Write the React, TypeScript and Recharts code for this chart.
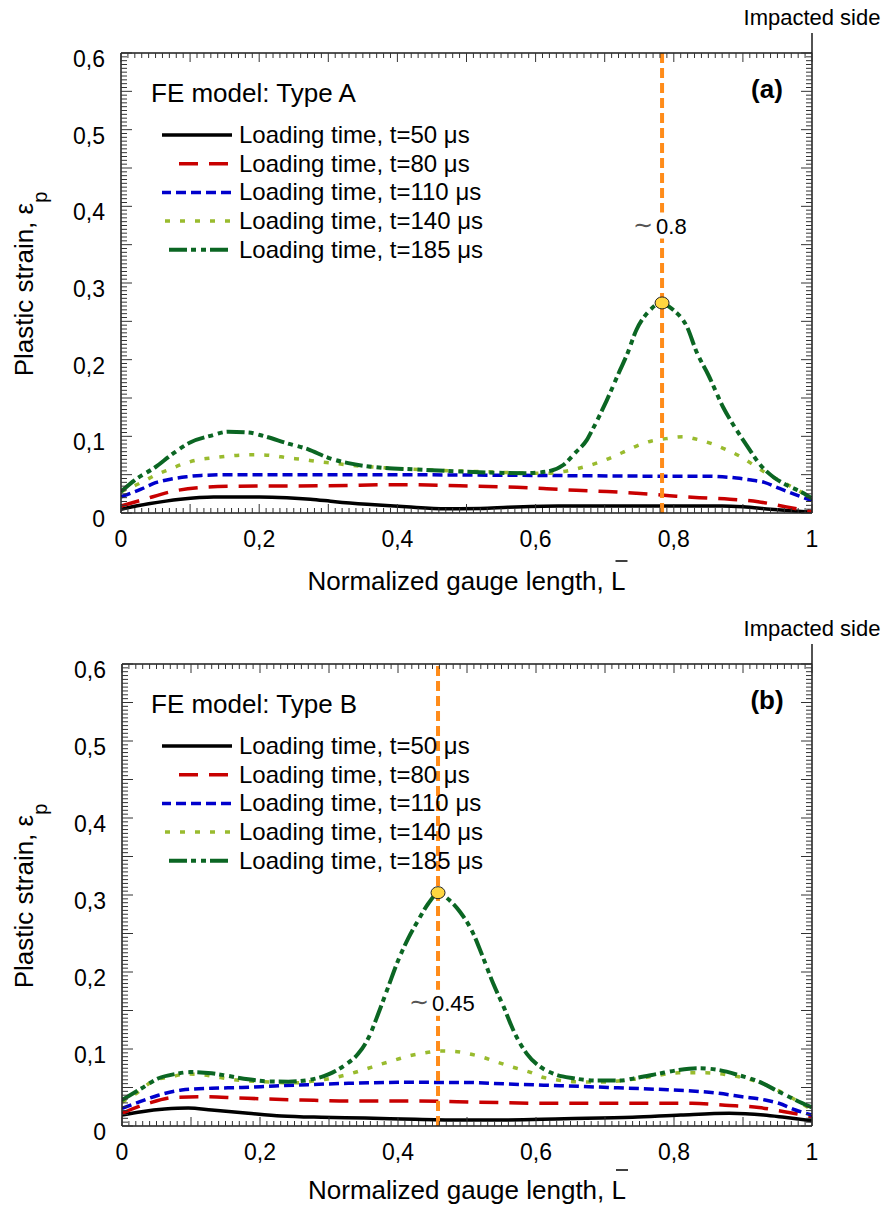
import React from 'react';
import { LineChart, Line, XAxis, YAxis, ReferenceLine, ReferenceDot } from 'recharts';

type Pt = [number, number];

// legend text, tick labels
const SERIES_NAMES = [
  'Loading time, t=50 μs',
  'Loading time, t=80 μs',
  'Loading time, t=110 μs',
  'Loading time, t=140 μs',
  'Loading time, t=185 μs',
];
const X_LABEL_TICKS = [0, 0.2, 0.4, 0.6, 0.8, 1];
const Y_LABEL_TICKS = [0, 0.1, 0.2, 0.3, 0.4, 0.5, 0.6];

// ---- FE model: Type A ----
const A_T50: Pt[] = [
  [0, 0.005], [0.04, 0.012], [0.086, 0.018], [0.134, 0.021], [0.2, 0.021], [0.24, 0.02],
  [0.274, 0.018], [0.31, 0.0147], [0.356, 0.0113], [0.413, 0.008], [0.47, 0.0056], [0.52, 0.0058],
  [0.56, 0.0074], [0.633, 0.009], [0.75, 0.009], [0.87, 0.009], [0.9, 0.008], [0.94, 0.005],
  [0.97, 0.003], [1, 0.001],
];
const A_T80: Pt[] = [
  [0, 0.009], [0.034, 0.018], [0.077, 0.0287], [0.12, 0.0335], [0.168, 0.035], [0.3, 0.0355],
  [0.4, 0.037], [0.49, 0.0355], [0.573, 0.0335], [0.616, 0.0317], [0.659, 0.0296], [0.703, 0.028],
  [0.746, 0.0257], [0.794, 0.0226], [0.837, 0.02], [0.881, 0.018], [0.922, 0.0147], [0.963, 0.008],
  [1, 0.002],
];
const A_T110: Pt[] = [
  [0, 0.021], [0.029, 0.031], [0.05, 0.0395], [0.073, 0.0443], [0.095, 0.0473], [0.116, 0.049],
  [0.16, 0.05], [0.35, 0.05], [0.6, 0.049], [0.8, 0.048], [0.847, 0.048], [0.891, 0.0456],
  [0.912, 0.043], [0.931, 0.04], [0.953, 0.032], [0.975, 0.0244], [1, 0.016],
];
const A_T140: Pt[] = [
  [0, 0.028], [0.03, 0.04], [0.05, 0.0495], [0.07, 0.057], [0.09, 0.064], [0.108, 0.0687],
  [0.134, 0.072], [0.175, 0.0756], [0.197, 0.076], [0.22, 0.075], [0.24, 0.072], [0.262, 0.07],
  [0.285, 0.067], [0.307, 0.065], [0.33, 0.0625], [0.38, 0.059], [0.45, 0.056], [0.52, 0.054],
  [0.6, 0.052], [0.618, 0.052], [0.64, 0.054], [0.661, 0.058], [0.683, 0.0635], [0.703, 0.07],
  [0.725, 0.0786], [0.746, 0.0873], [0.768, 0.094], [0.789, 0.097], [0.813, 0.0995], [0.834, 0.096],
  [0.856, 0.09], [0.875, 0.083], [0.897, 0.0734], [0.918, 0.061], [0.938, 0.0495], [0.956, 0.041],
  [0.979, 0.03], [1, 0.019],
];
const A_T185: Pt[] = [
  [0, 0.028], [0.02, 0.043], [0.05, 0.06], [0.073, 0.076], [0.1, 0.092], [0.131, 0.101],
  [0.155, 0.106], [0.184, 0.105], [0.208, 0.1], [0.24, 0.091], [0.271, 0.083], [0.3, 0.072],
  [0.329, 0.065], [0.377, 0.059], [0.425, 0.057], [0.493, 0.054], [0.587, 0.052], [0.616, 0.054],
  [0.64, 0.0626], [0.659, 0.08], [0.674, 0.095], [0.683, 0.11], [0.703, 0.147], [0.722, 0.186],
  [0.732, 0.206], [0.746, 0.239], [0.766, 0.265], [0.781, 0.274], [0.799, 0.265], [0.819, 0.243],
  [0.833, 0.21], [0.85, 0.18], [0.872, 0.137], [0.891, 0.108], [0.905, 0.089], [0.925, 0.063],
  [0.944, 0.047], [0.963, 0.0365], [0.983, 0.028], [1, 0.019],
];
const A_PEAK: Pt = [0.783, 0.274];
const A_MARK_Y = 0.375;
const A_MARK_TEXT = '0.8';

// ---- FE model: Type B ----
const B_T50: Pt[] = [
  [0, 0.0143], [0.0285, 0.0186], [0.062, 0.022], [0.096, 0.0234], [0.13, 0.0208], [0.183, 0.0165],
  [0.231, 0.013], [0.289, 0.0113], [0.352, 0.0104], [0.425, 0.0087], [0.492, 0.0078], [0.545, 0.0078],
  [0.641, 0.0095], [0.74, 0.0113], [0.81, 0.0143], [0.88, 0.0165], [0.93, 0.0143], [0.96, 0.0113],
  [1, 0.0069],
];
const B_T80: Pt[] = [
  [0, 0.0165], [0.038, 0.0295], [0.0768, 0.0373], [0.12, 0.038], [0.1686, 0.0364], [0.212, 0.035],
  [0.2604, 0.0338], [0.328, 0.0325], [0.425, 0.0325], [0.516, 0.031], [0.609, 0.0295], [0.826, 0.0295],
  [0.874, 0.027], [0.923, 0.024], [0.96, 0.0186], [1, 0.012],
];
const B_T110: Pt[] = [
  [0, 0.023], [0.026, 0.0316], [0.0527, 0.04], [0.0865, 0.0467], [0.13, 0.049], [0.1734, 0.05],
  [0.2217, 0.052], [0.27, 0.0537], [0.328, 0.0554], [0.4, 0.0567], [0.5, 0.0565], [0.56, 0.0545],
  [0.635, 0.0524], [0.707, 0.05], [0.778, 0.0476], [0.826, 0.0455], [0.865, 0.0424], [0.899, 0.038],
  [0.932, 0.0338], [0.952, 0.0295], [0.976, 0.0208], [1, 0.0143],
];
const B_T140: Pt[] = [
  [0, 0.031], [0.02, 0.042], [0.048, 0.0597], [0.072, 0.064], [0.0937, 0.0675], [0.1155, 0.0667],
  [0.1348, 0.064], [0.159, 0.0606], [0.2024, 0.0576], [0.2459, 0.056], [0.289, 0.0597], [0.333, 0.0684],
  [0.352, 0.0736], [0.374, 0.08], [0.3957, 0.0857], [0.417, 0.0913], [0.439, 0.095], [0.46, 0.0974],
  [0.482, 0.0968], [0.504, 0.0935], [0.525, 0.0887], [0.547, 0.082], [0.568, 0.076], [0.59, 0.0703],
  [0.611, 0.063], [0.631, 0.0597], [0.653, 0.0576], [0.695, 0.057], [0.74, 0.0606], [0.778, 0.066],
  [0.807, 0.069], [0.845, 0.069], [0.874, 0.067], [0.913, 0.0597], [0.937, 0.052], [0.966, 0.039],
  [1, 0.021],
];
const B_T185: Pt[] = [
  [0, 0.0338], [0.0285, 0.049], [0.053, 0.062], [0.077, 0.0675], [0.099, 0.07], [0.13, 0.0684],
  [0.154, 0.065], [0.183, 0.0606], [0.212, 0.058], [0.241, 0.0576], [0.27, 0.0597], [0.299, 0.067],
  [0.323, 0.079], [0.3425, 0.094], [0.357, 0.114], [0.3715, 0.146], [0.386, 0.181], [0.4005, 0.2156],
  [0.415, 0.244], [0.4295, 0.2675], [0.444, 0.289], [0.458, 0.302], [0.475, 0.293], [0.49, 0.278],
  [0.509, 0.25], [0.521, 0.224], [0.538, 0.185], [0.553, 0.155], [0.567, 0.1247], [0.5865, 0.094],
  [0.606, 0.077], [0.625, 0.068], [0.654, 0.062], [0.688, 0.059], [0.72, 0.059], [0.749, 0.063],
  [0.778, 0.068], [0.807, 0.0727], [0.836, 0.075], [0.865, 0.0727], [0.894, 0.066], [0.923, 0.0576],
  [0.952, 0.0445], [0.976, 0.0338], [1, 0.024],
];
const B_PEAK: Pt = [0.458, 0.303];
const B_MARK_Y = 0.16;
const B_MARK_TEXT = '0.45';

// ---- styling ----
const W = 885;
const FONT = "'Liberation Sans', Arial, Helvetica, sans-serif";
const AXIS = '#1a1a1a';
const TICK = '#333';
const ORANGE = '#FF8C1A';

const STYLES = [
  { color: '#000000', dash: undefined as string | undefined, width: 3.5, lx1: 162, lx2: 232 },
  { color: '#C80000', dash: '19 11', width: 3.5, lx1: 177, lx2: 228 },
  { color: '#0000CC', dash: '10 5', width: 3.5, lx1: 162, lx2: 231 },
  { color: '#99BB2E', dash: '5 10', width: 3.5, lx1: 162, lx2: 230 },
  { color: '#0B6623', dash: '18 4 5 5 5 4', width: 4, lx1: 168, lx2: 228 },
];

const X_TICKS = Array.from({ length: 101 }, (_, i) => i / 100);
const Y_TICKS = Array.from({ length: 121 }, (_, i) => (i * 5) / 1000);

const isMult = (v: number, step: number) => Math.abs(v / step - Math.round(v / step)) < 1e-6;
const hasLabel = (v: number, list: number[]) => list.some((t) => Math.abs(t - v) < 1e-6);
const fmt = (v: number) => (v === 0 ? '0' : v === 1 ? '1' : v.toFixed(1).replace('.', ','));
const toRows = (pts: Pt[]) => pts.map(([x, y]) => ({ x, y }));

const bottomTick = (p: any) => {
  const v = p.payload.value;
  return (
    <g>
      <line x1={p.x} x2={p.x} y1={p.y} y2={p.y - (isMult(v, 0.1) ? 9 : 5)} stroke={TICK} strokeWidth={1} />
      {hasLabel(v, X_LABEL_TICKS) && (
        <text x={p.x} y={p.y + 34} textAnchor="middle" fontSize={23} fill="#000">{fmt(v)}</text>
      )}
    </g>
  );
};
const topTick = (p: any) => {
  const v = p.payload.value;
  return <line x1={p.x} x2={p.x} y1={p.y} y2={p.y + (isMult(v, 0.1) ? 9 : 5)} stroke={TICK} strokeWidth={1} />;
};
const leftTick = (p: any) => {
  const v = p.payload.value;
  return (
    <g>
      <line x1={p.x} x2={p.x + (isMult(v, 0.05) ? 11 : 6)} y1={p.y} y2={p.y} stroke={TICK} strokeWidth={1} />
      {hasLabel(v, Y_LABEL_TICKS) && (
        <text x={p.x - 16} y={p.y + 14} textAnchor="end" fontSize={23} fill="#000">{fmt(v)}</text>
      )}
    </g>
  );
};
const rightTick = (p: any) => {
  const v = p.payload.value;
  return <line x1={p.x} x2={p.x - (isMult(v, 0.05) ? 11 : 6)} y1={p.y} y2={p.y} stroke={TICK} strokeWidth={1} />;
};

const makeXLabel = (offset: number) => (p: any) => {
  const vb = p.viewBox;
  const cx = vb.x + vb.width / 2;
  const y = vb.y + offset;
  return (
    <g>
      <text x={cx} y={y} textAnchor="middle" fontSize={26} fill="#000">Normalized gauge length, L</text>
      <line x1={cx + 149} x2={cx + 161} y1={y - 29} y2={y - 29} stroke="#000" strokeWidth={1.5} />
    </g>
  );
};
const yLabel = (p: any) => {
  const vb = p.viewBox;
  const cy = vb.y + vb.height / 2 + 1;
  const x = 33;
  return (
    <text x={x} y={cy} transform={`rotate(-90, ${x}, ${cy})`} textAnchor="middle" fontSize={26} fill="#000">
      Plastic strain, ε<tspan dy={14} fontSize={20}>p</tspan>
    </text>
  );
};

interface PanelProps {
  series: Pt[][];
  peak: Pt;
  markY: number;
  markText: string;
  title: string;
  tag: string;
  top: number;
  height: number;
  labelOffset: number;
  margin: { top: number; right: number; bottom: number; left: number };
}

// each axis is 1px thick, so the margins below are shrunk by 1 to keep the plot box in place
const AX = 1;

const Panel: React.FC<PanelProps> = ({ series, peak, markY, markText, title, tag, top, height, labelOffset, margin }) => {
  const plotRight = W - margin.right;
  const pTop = margin.top;
  const chartMargin = {
    top: margin.top - AX,
    right: margin.right - AX,
    bottom: margin.bottom - AX,
    left: margin.left - AX,
  };
  return (
    <div style={{ position: 'absolute', left: 0, top, width: W, height }}>
      <LineChart width={W} height={height} margin={chartMargin}>
        <XAxis
          xAxisId="bottom" type="number" dataKey="x" domain={[0, 1]} allowDataOverflow
          ticks={X_TICKS} interval={0} tickSize={0} tickMargin={0} tickLine={false} tick={bottomTick}
          height={AX} axisLine={{ stroke: AXIS, strokeWidth: 1.5 }} label={{ content: makeXLabel(labelOffset) }}
        />
        <XAxis
          xAxisId="top" orientation="top" type="number" dataKey="x" domain={[0, 1]} allowDataOverflow
          ticks={X_TICKS} interval={0} tickSize={0} tickMargin={0} tickLine={false} tick={topTick}
          height={AX} axisLine={{ stroke: AXIS, strokeWidth: 1.5 }}
        />
        <YAxis
          yAxisId="left" type="number" domain={[0, 0.6]} allowDataOverflow
          ticks={Y_TICKS} interval={0} tickSize={0} tickMargin={0} tickLine={false} tick={leftTick}
          width={AX} axisLine={{ stroke: AXIS, strokeWidth: 1.5 }} label={{ content: yLabel }}
        />
        <YAxis
          yAxisId="right" orientation="right" type="number" domain={[0, 0.6]} allowDataOverflow
          ticks={Y_TICKS} interval={0} tickSize={0} tickMargin={0} tickLine={false} tick={rightTick}
          width={AX} axisLine={{ stroke: AXIS, strokeWidth: 1.5 }}
        />
        {series.map((pts, i) => (
          <Line
            key={SERIES_NAMES[i]}
            name={SERIES_NAMES[i]}
            xAxisId="bottom"
            yAxisId="left"
            data={toRows(pts)}
            dataKey="y"
            type="monotone"
            stroke={STYLES[i].color}
            strokeWidth={STYLES[i].width}
            strokeDasharray={STYLES[i].dash}
            dot={false}
            activeDot={false}
            isAnimationActive={false}
          />
        ))}
        <ReferenceLine
          xAxisId="bottom" yAxisId="left" x={peak[0]}
          stroke={ORANGE} strokeWidth={4} strokeDasharray="10 5"
        />
        <ReferenceDot
          xAxisId="bottom" yAxisId="left" x={peak[0]} y={markY} r={1}
          shape={(p: any) => (
            <g>
              <rect x={p.cx - 8} y={p.cy - 13} width={markText.length * 13 + 4} height={26} fill="#fff" />
              <text x={p.cx - 9} y={p.cy + 7} textAnchor="end" fontSize={24} fill="#555">∼</text>
              <text x={p.cx - 6} y={p.cy + 8} fontSize={22} fill="#000">{markText}</text>
            </g>
          )}
        />
        <ReferenceDot
          xAxisId="bottom" yAxisId="left" x={peak[0]} y={peak[1]} r={7}
          shape={(p: any) => (
            <ellipse cx={p.cx} cy={p.cy} rx={7} ry={6} fill="#FFD740" stroke="#222" strokeWidth={1} />
          )}
        />
      </LineChart>
      <svg
        width={W}
        height={height}
        style={{ position: 'absolute', left: 0, top: 0, pointerEvents: 'none' }}
      >
        <line x1={plotRight} x2={plotRight} y1={pTop - 20} y2={pTop} stroke={AXIS} strokeWidth={1.5} />
        <text x={plotRight} y={pTop - 28} textAnchor="middle" fontSize={22} fill="#000">Impacted side</text>
        <text x={plotRight - 45} y={pTop + 45} textAnchor="middle" fontSize={26} fontWeight="bold" fill="#000">{tag}</text>
        <text x={151} y={pTop + 49} fontSize={26} fill="#000">{title}</text>
        {SERIES_NAMES.map((name, i) => {
          const cy = pTop + 82 + i * 28.7;
          const s = STYLES[i];
          return (
            <g key={name}>
              <line x1={s.lx2} x2={s.lx1} y1={cy} y2={cy} stroke={s.color} strokeWidth={s.width} strokeDasharray={s.dash} />
              <text x={239} y={cy + 8} fontSize={24} fill="#000">{name}</text>
            </g>
          );
        })}
      </svg>
    </div>
  );
};

export default function App() {
  return (
    <div style={{ position: 'absolute', left: 0, top: 0, width: W, height: 1207, background: '#fff', fontFamily: FONT }}>
      <Panel
        series={[A_T50, A_T80, A_T110, A_T140, A_T185]}
        peak={A_PEAK}
        markY={A_MARK_Y}
        markText={A_MARK_TEXT}
        title="FE model: Type A"
        tag="(a)"
        top={0}
        height={600}
        labelOffset={77}
        margin={{ top: 53, right: 73, bottom: 87, left: 121 }}
      />
      <Panel
        series={[B_T50, B_T80, B_T110, B_T140, B_T185]}
        peak={B_PEAK}
        markY={B_MARK_Y}
        markText={B_MARK_TEXT}
        title="FE model: Type B"
        tag="(b)"
        top={600}
        height={607}
        labelOffset={73}
        margin={{ top: 64, right: 73, bottom: 81, left: 122 }}
      />
    </div>
  );
}
